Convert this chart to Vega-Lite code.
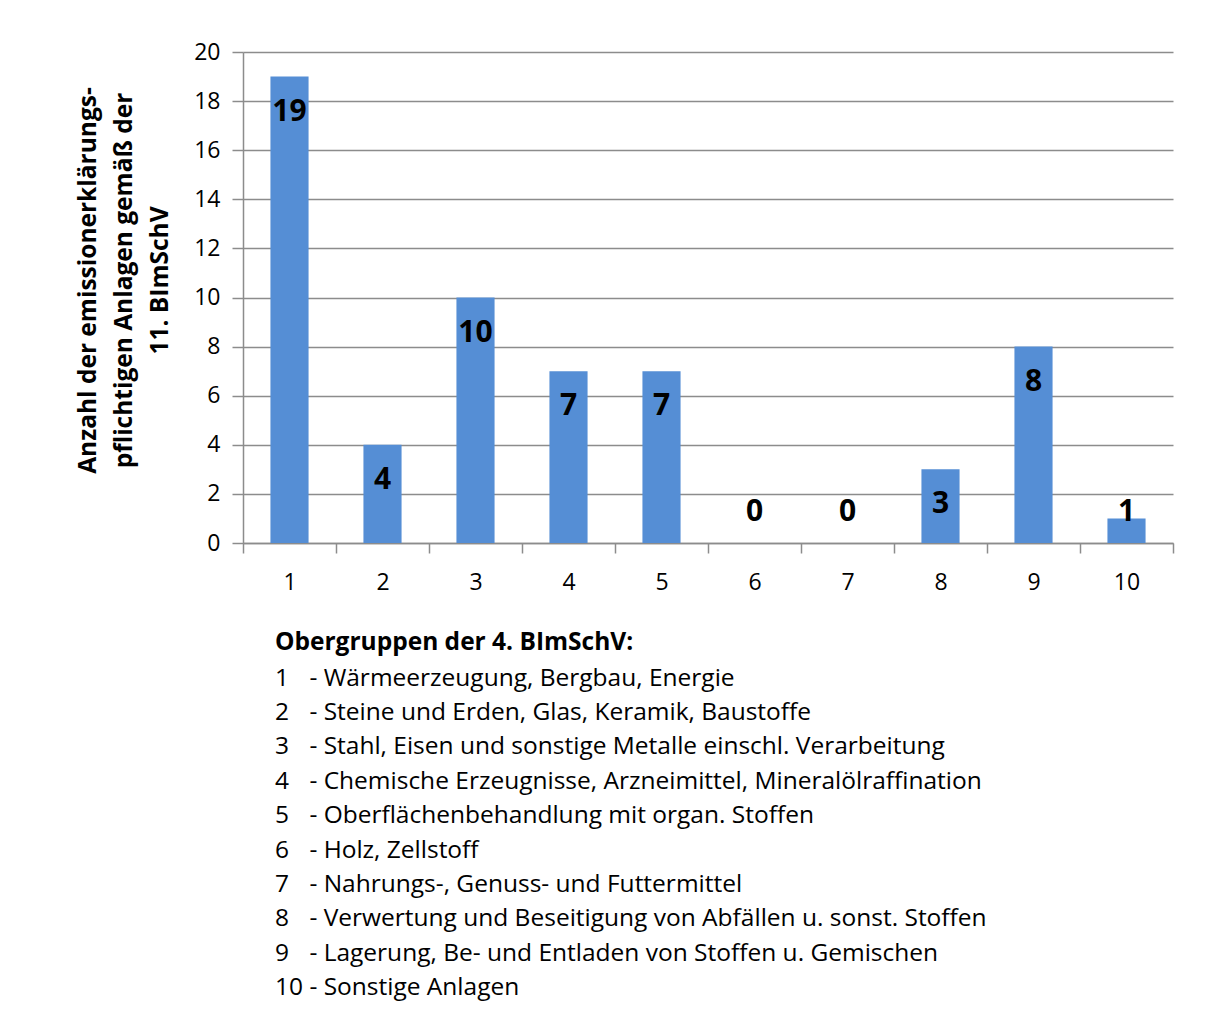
{
  "$schema": "https://vega.github.io/schema/vega-lite/v6.json",
  "width": 930,
  "height": 491,
  "autosize": {"type": "none"},
  "padding": {"left": 243, "top": 52, "right": 41, "bottom": 489},
  "background": "white",
  "config": {
    "view": {"stroke": null},
    "font": "Open Sans"
  },
  "data": {
    "values": [
      {"gruppe": "1", "anzahl": 19},
      {"gruppe": "2", "anzahl": 4},
      {"gruppe": "3", "anzahl": 10},
      {"gruppe": "4", "anzahl": 7},
      {"gruppe": "5", "anzahl": 7},
      {"gruppe": "6", "anzahl": 0},
      {"gruppe": "7", "anzahl": 0},
      {"gruppe": "8", "anzahl": 3},
      {"gruppe": "9", "anzahl": 8},
      {"gruppe": "10", "anzahl": 1}
    ]
  },
  "title": {
    "text": "Obergruppen der 4. BImSchV:",
    "subtitle": [
      "1\u2007 - Wärmeerzeugung, Bergbau, Energie",
      "2\u2007 - Steine und Erden, Glas, Keramik, Baustoffe",
      "3\u2007 - Stahl, Eisen und sonstige Metalle einschl. Verarbeitung",
      "4\u2007 - Chemische Erzeugnisse, Arzneimittel, Mineralölraffination",
      "5\u2007 - Oberflächenbehandlung mit organ.  Stoffen",
      "6\u2007 - Holz, Zellstoff",
      "7\u2007 - Nahrungs-, Genuss- und Futtermittel",
      "8\u2007 - Verwertung und Beseitigung von Abfällen u. sonst. Stoffen",
      "9\u2007 - Lagerung, Be- und Entladen von Stoffen u. Gemischen",
      "10 - Sonstige Anlagen"
    ],
    "orient": "bottom",
    "anchor": "start",
    "frame": "group",
    "dx": 32,
    "offset": 37,
    "font": "Open Sans",
    "fontSize": 24.5,
    "fontWeight": "bold",
    "color": "black",
    "subtitleFont": "Open Sans",
    "subtitleFontSize": 24.5,
    "subtitleColor": "black",
    "subtitleLineHeight": 34.4,
    "subtitlePadding": 11
  },
  "encoding": {
    "x": {
      "field": "gruppe",
      "type": "ordinal",
      "sort": null,
      "scale": {"paddingInner": 0, "paddingOuter": 0},
      "axis": {
        "title": null,
        "labelAngle": 0,
        "labelFont": "Open Sans",
        "labelFontSize": 23,
        "labelColor": "black",
        "labelPadding": 18,
        "tickBand": "extent",
        "tickSize": 10,
        "tickColor": "#8c8c8c",
        "tickWidth": 1.5,
        "domainColor": "#8c8c8c",
        "domainWidth": 1.5,
        "grid": false
      }
    }
  },
  "layer": [
    {
      "mark": {"type": "bar", "color": "#558ed5", "width": {"band": 0.41}},
      "encoding": {
        "y": {
          "field": "anzahl",
          "type": "quantitative",
          "scale": {"domain": [0, 20]},
          "axis": {
            "values": [0, 2, 4, 6, 8, 10, 12, 14, 16, 18, 20],
            "title": ["Anzahl der emissionerklärungs-", "pflichtigen Anlagen gemäß der", "11. BImSchV"],
            "titleFont": "Open Sans",
            "titleFontSize": 24.5,
            "titleFontWeight": "bold",
            "titleColor": "black",
            "titleAngle": -90,
            "titleAlign": "center",
            "titleBaseline": "top",
            "titleLineHeight": 36,
            "titleX": -167,
            "titleY": 228,
            "labelFont": "Open Sans",
            "labelFontSize": 23,
            "labelColor": "black",
            "labelPadding": 12,
            "tickSize": 11,
            "tickColor": "#8c8c8c",
            "tickWidth": 1.5,
            "domainColor": "#8c8c8c",
            "domainWidth": 1.5,
            "grid": true,
            "gridColor": "#8c8c8c",
            "gridWidth": 1.5
          }
        }
      }
    },
    {
      "transform": [{"filter": "datum.anzahl >= 2"}],
      "mark": {"type": "text", "baseline": "middle", "dy": 35, "fontSize": 30, "fontWeight": "bold", "color": "black", "font": "Open Sans"},
      "encoding": {
        "y": {"field": "anzahl", "type": "quantitative"},
        "text": {"field": "anzahl", "type": "quantitative"}
      }
    },
    {
      "transform": [{"filter": "datum.anzahl < 2"}],
      "mark": {"type": "text", "baseline": "middle", "fontSize": 30, "fontWeight": "bold", "color": "black", "font": "Open Sans"},
      "encoding": {
        "y": {"datum": 1.25, "type": "quantitative"},
        "text": {"field": "anzahl", "type": "quantitative"}
      }
    }
  ]
}
